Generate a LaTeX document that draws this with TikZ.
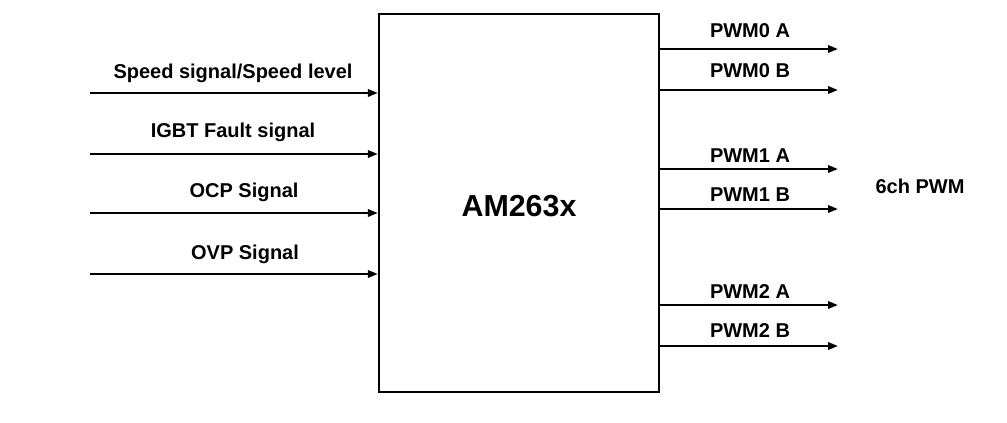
\documentclass[tikz,border=0pt]{standalone}
\usepackage{fontspec}
\setmainfont{Liberation Sans}
\usetikzlibrary{arrows.meta}

\begin{document}
\begin{tikzpicture}[x=0.75pt,y=-0.75pt,
    fleche/.style={line width=1.7pt,-{Triangle[length=7.5pt,width=5.5pt]}},
    etiq/.style={font=\bfseries\fontsize{15}{18}\selectfont,inner sep=0pt}]
    \useasboundingbox (0,0) rectangle (1007,422);

    % Bloc principal
    \node[draw,line width=1.7pt,minimum width=210pt,minimum height=283.5pt] (chip) at (519,203) {};
    \node[font=\bfseries\fontsize{22.8}{26}\selectfont,inner sep=0pt] (nom) at (519,206) {AM263x};

    % Entrees
    \foreach \y/\ty/\tx/\txt [count=\i] in {93/73/233/{Speed signal/Speed level},
            154/132/233/IGBT Fault signal, 213/192/244/OCP Signal, 274/254/245/OVP Signal} {
            \coordinate (in\i) at (90,\y);
            \draw[fleche] (in\i) -- (chip.west |- in\i);
            \node[etiq] (lin\i) at (\tx,\ty) {\txt};
        }

    % Sorties PWM
    \foreach \y/\ty/\txt [count=\i] in {49/31/PWM0 A, 90/71/PWM0 B, 169/156/PWM1 A,
            209/195/PWM1 B, 305/292/PWM2 A, 346/331/PWM2 B} {
            \coordinate (out\i) at (838,\y);
            \draw[fleche] (chip.east |- out\i) -- (out\i);
            \node[etiq] (lout\i) at (750,\ty) {\txt};
        }

    % Groupe
    \node[etiq] (groupe) at (920,186) {6ch PWM};
\end{tikzpicture}
\end{document}
